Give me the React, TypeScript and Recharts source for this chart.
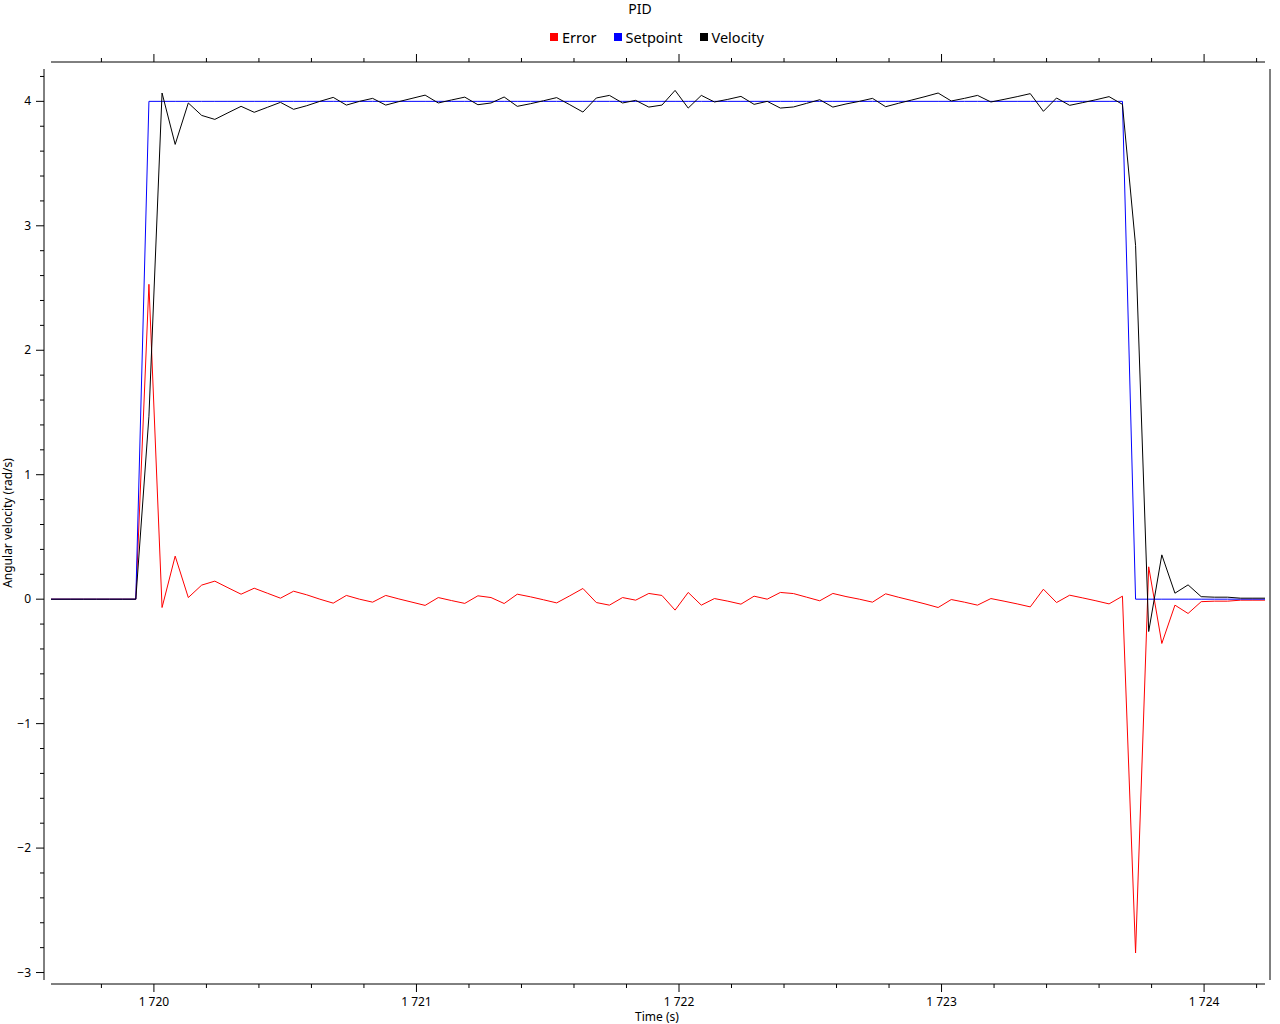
import { LineChart, Line, XAxis, YAxis, Legend, Label } from "recharts";

// sample times (s) at ~20 Hz
const times = [
  1719.608, 1719.681, 1719.731, 1719.781, 1719.831, 1719.881,
  1719.931, 1719.981, 1720.031, 1720.081, 1720.131, 1720.182, 1720.232, 1720.282, 1720.332, 1720.382,
  1720.432, 1720.482, 1720.532, 1720.582, 1720.632, 1720.683, 1720.733, 1720.783, 1720.833, 1720.883,
  1720.933, 1720.983, 1721.033, 1721.083, 1721.133, 1721.184, 1721.234, 1721.284, 1721.334, 1721.384,
  1721.434, 1721.484, 1721.534, 1721.584, 1721.634, 1721.685, 1721.735, 1721.785, 1721.835, 1721.885,
  1721.935, 1721.985, 1722.035, 1722.085, 1722.135, 1722.186, 1722.236, 1722.286, 1722.336, 1722.386,
  1722.436, 1722.486, 1722.536, 1722.586, 1722.636, 1722.687, 1722.737, 1722.787, 1722.837, 1722.887,
  1722.937, 1722.987, 1723.037, 1723.087, 1723.137, 1723.188, 1723.238, 1723.288, 1723.338, 1723.388,
  1723.438, 1723.488, 1723.538, 1723.588, 1723.638, 1723.689, 1723.739, 1723.789, 1723.839, 1723.889,
  1723.939, 1723.989, 1724.039, 1724.089, 1724.139, 1724.186, 1724.232,
];

const setpoint = [
  0, 0, 0, 0, 0, 0,
  0, 4, 4, 4, 4, 4, 4, 4, 4, 4,
  4, 4, 4, 4, 4, 4, 4, 4, 4, 4,
  4, 4, 4, 4, 4, 4, 4, 4, 4, 4,
  4, 4, 4, 4, 4, 4, 4, 4, 4, 4,
  4, 4, 4, 4, 4, 4, 4, 4, 4, 4,
  4, 4, 4, 4, 4, 4, 4, 4, 4, 4,
  4, 4, 4, 4, 4, 4, 4, 4, 4, 4,
  4, 4, 4, 4, 4, 4, 0, 0, 0, 0,
  0, 0, 0, 0, 0, 0, 0,
];

const velocity = [
  0, 0, 0, 0, 0, 0,
  0, 1.47, 4.067, 3.654, 3.987, 3.887, 3.855, 3.908, 3.96, 3.912,
  3.952, 3.992, 3.936, 3.965, 4.0, 4.032, 3.97, 4.0, 4.024, 3.97,
  3.998, 4.024, 4.05, 3.987, 4.011, 4.034, 3.973, 3.987, 4.035, 3.96,
  3.981, 4.005, 4.03, 3.973, 3.914, 4.027, 4.048, 3.987, 4.008, 3.954,
  3.97, 4.088, 3.946, 4.048, 3.995, 4.016, 4.04, 3.976, 4.0, 3.946,
  3.955, 3.984, 4.013, 3.954, 3.979, 4.0, 4.024, 3.957, 3.985, 4.011,
  4.038, 4.067, 4.003, 4.024, 4.048, 3.995, 4.016, 4.038, 4.062, 3.92,
  4.027, 3.968, 3.99, 4.013, 4.038, 3.976, 2.843, -0.26, 0.356, 0.048,
  0.115, 0.02, 0.016, 0.016, 0.008, 0.008, 0.008,
];

const error = [
  0, 0, 0, 0, 0, 0,
  0, 2.53, -0.067, 0.346, 0.013, 0.113, 0.145, 0.092, 0.04, 0.088,
  0.048, 0.008, 0.064, 0.035, 0.0, -0.032, 0.03, 0.0, -0.024, 0.03,
  0.002, -0.024, -0.05, 0.013, -0.011, -0.034, 0.027, 0.013, -0.035, 0.04,
  0.019, -0.005, -0.03, 0.027, 0.086, -0.027, -0.048, 0.013, -0.008, 0.046,
  0.03, -0.088, 0.054, -0.048, 0.005, -0.016, -0.04, 0.024, 0.0, 0.054,
  0.045, 0.016, -0.013, 0.046, 0.021, 0.0, -0.024, 0.043, 0.015, -0.011,
  -0.038, -0.067, -0.003, -0.024, -0.048, 0.005, -0.016, -0.038, -0.062, 0.08,
  -0.027, 0.032, 0.01, -0.013, -0.038, 0.024, -2.843, 0.26, -0.356, -0.048,
  -0.115, -0.02, -0.016, -0.016, -0.008, -0.008, -0.008,
];

// tick positions (major + minor)
const xTicks = [
  1719.8, 1720, 1720.2, 1720.4, 1720.6, 1720.8, 1721, 1721.2, 1721.4, 1721.6, 1721.8, 1722,
  1722.2, 1722.4, 1722.6, 1722.8, 1723, 1723.2, 1723.4, 1723.6, 1723.8, 1724, 1724.2,
];
const yTicks = [
  -3, -2.8, -2.6, -2.4, -2.2, -2, -1.8, -1.6, -1.4, -1.2, -1, -0.8, -0.6, -0.4, -0.2, 0,
  0.2, 0.4, 0.6, 0.8, 1, 1.2, 1.4, 1.6, 1.8, 2, 2.2, 2.4, 2.6, 2.8, 3, 3.2, 3.4, 3.6, 3.8, 4, 4.2,
];

const data = times.map((t, i) => ({ t, error: error[i], setpoint: setpoint[i], velocity: velocity[i] }));

const FONT = "'Noto Sans', sans-serif";
const W = 1280;
const H = 1024;
// frame (axis lines) and the inner data box
const LEFT = 44, RIGHT = 1270, TOP = 62, BOTTOM = 984;
const PAD = { left: 7, right: 5, top: 7, bottom: 4 };

const isMajor = (v: number) => Math.abs(v - Math.round(v)) < 1e-6;
const fmtX = (v: number) => {
  const s = String(Math.round(v));
  return s.slice(0, -3) + " " + s.slice(-3);
};
const fmtY = (v: number) => (v < 0 ? "\u2212" + Math.abs(Math.round(v)) : String(Math.round(v)));

const BottomTick = ({ x, y, payload }: any) => {
  const major = isMajor(payload.value);
  return (
    <g>
      <line x1={x} x2={x} y1={y} y2={y + (major ? 8 : 4)} stroke="#000" />
      {major && (
        <text x={x} y={y + 22} textAnchor="middle" fontSize={12} fontFamily={FONT} fill="#000">
          {fmtX(payload.value)}
        </text>
      )}
    </g>
  );
};

const TopTick = ({ x, y, payload }: any) => (
  <line x1={x} x2={x} y1={y} y2={y - (isMajor(payload.value) ? 8 : 4)} stroke="#000" />
);

const LeftTick = ({ x, y, payload }: any) => {
  const major = isMajor(payload.value);
  return (
    <g>
      <line x1={x} x2={x - (major ? 8 : 4)} y1={y} y2={y} stroke="#000" />
      {major && (
        <text x={x - 13} y={y + 4} textAnchor="end" fontSize={12} fontFamily={FONT} fill="#000">
          {fmtY(payload.value)}
        </text>
      )}
    </g>
  );
};

const RightTick = ({ x, y, payload }: any) => (
  <line x1={x} x2={x + (isMajor(payload.value) ? 8 : 4)} y1={y} y2={y} stroke="#000" />
);

const renderLegend = (props: any) => (
  <div style={{ display: "flex", justifyContent: "center", gap: 17, fontFamily: FONT, fontSize: 14.5, color: "#000" }}>
    {(props.payload || []).map((e: any) => (
      <span key={e.value} style={{ display: "flex", alignItems: "center" }}>
        <span style={{ width: 8, height: 8, background: e.color, marginRight: 4, display: "inline-block" }} />
        {e.value}
      </span>
    ))}
  </div>
);

export default function App() {
  const xDomain = [1719.608, 1724.232];
  const yDomain = [-3.06, 4.26];
  return (
    <div style={{ position: "absolute", left: 0, top: 0, width: W, height: H, background: "#fff" }}>
      <LineChart width={W} height={H} data={data} margin={{ top: 0, right: 0, bottom: 0, left: 0 }}>
        <XAxis
          xAxisId="b"
          dataKey="t"
          type="number"
          domain={xDomain}
          ticks={xTicks}
          interval={0}
          height={H - BOTTOM}
          padding={{ left: PAD.left, right: PAD.right }}
          axisLine={false}
          tickLine={false}
          tickSize={0}
          tickMargin={0}
          tick={(p: any) => <BottomTick {...p} />}
        >
          <Label
            content={({ viewBox }: any) => (
              <text
                x={viewBox.x + viewBox.width / 2}
                y={H - 3}
                textAnchor="middle"
                fontSize={12}
                fontFamily={FONT}
                fill="#000"
              >
                Time (s)
              </text>
            )}
          />
        </XAxis>
        <XAxis
          xAxisId="t"
          orientation="top"
          dataKey="t"
          type="number"
          domain={xDomain}
          ticks={xTicks}
          interval={0}
          height={TOP}
          padding={{ left: PAD.left, right: PAD.right }}
          axisLine={false}
          tickLine={false}
          tickSize={0}
          tickMargin={0}
          tick={(p: any) => <TopTick {...p} />}
        />
        <YAxis
          yAxisId="l"
          type="number"
          domain={yDomain}
          ticks={yTicks}
          interval={0}
          width={LEFT}
          padding={{ top: PAD.top, bottom: PAD.bottom }}
          axisLine={false}
          tickLine={false}
          tickSize={0}
          tickMargin={0}
          tick={(p: any) => <LeftTick {...p} />}
        >
          <Label
            content={({ viewBox }: any) => {
              const cx = 12;
              const cy = viewBox.y + viewBox.height / 2;
              return (
                <text
                  x={cx}
                  y={cy}
                  transform={`rotate(-90 ${cx} ${cy})`}
                  textAnchor="middle"
                  fontSize={12}
                  fontFamily={FONT}
                  fill="#000"
                >
                  Angular velocity (rad/s)
                </text>
              );
            }}
          />
        </YAxis>
        <YAxis
          yAxisId="r"
          orientation="right"
          type="number"
          domain={yDomain}
          ticks={yTicks}
          interval={0}
          width={W - RIGHT}
          padding={{ top: PAD.top, bottom: PAD.bottom }}
          axisLine={false}
          tickLine={false}
          tickSize={0}
          tickMargin={0}
          tick={(p: any) => <RightTick {...p} />}
        />
        <Legend
          layout="horizontal"
          verticalAlign="middle"
          align="center"
          content={renderLegend}
          wrapperStyle={{ top: 27, left: LEFT, width: RIGHT - LEFT }}
        />
        <Line xAxisId="b" yAxisId="l" name="Error" dataKey="error" stroke="#ff0000" strokeWidth={1} dot={false} type="linear" isAnimationActive={false} />
        <Line xAxisId="b" yAxisId="l" name="Setpoint" dataKey="setpoint" stroke="#0000ff" strokeWidth={1} dot={false} type="linear" isAnimationActive={false} />
        <Line xAxisId="b" yAxisId="l" name="Velocity" dataKey="velocity" stroke="#000000" strokeWidth={1} dot={false} type="linear" isAnimationActive={false} />
      </LineChart>
      {/* title and the detached axis lines of the frame */}
      <svg width={W} height={H} style={{ position: "absolute", left: 0, top: 0, pointerEvents: "none" }}>
        <text x={640} y={14} textAnchor="middle" fontSize={14} fontFamily={FONT} fill="#000">
          PID
        </text>
        <line x1={LEFT + PAD.left} x2={RIGHT - PAD.right} y1={TOP} y2={TOP} stroke="#000" />
        <line x1={LEFT + PAD.left} x2={RIGHT - PAD.right} y1={BOTTOM} y2={BOTTOM} stroke="#000" />
        <line x1={LEFT} x2={LEFT} y1={TOP + PAD.top} y2={BOTTOM - PAD.bottom} stroke="#000" />
        <line x1={RIGHT} x2={RIGHT} y1={TOP + PAD.top} y2={BOTTOM - PAD.bottom} stroke="#000" />
      </svg>
    </div>
  );
}
